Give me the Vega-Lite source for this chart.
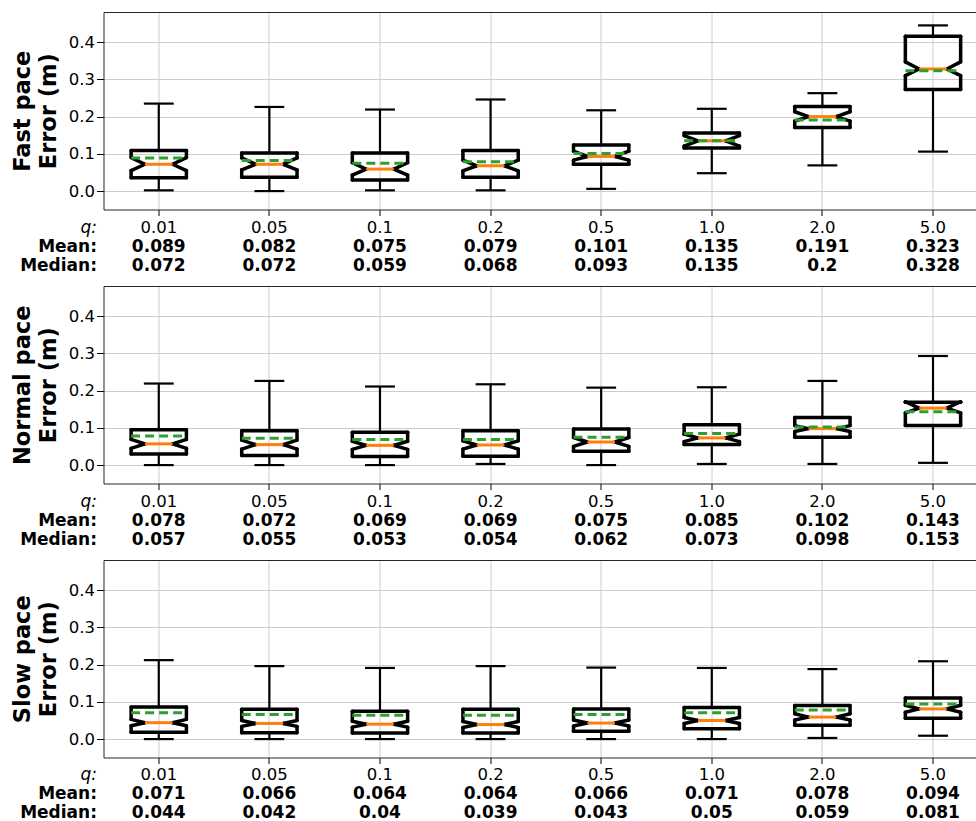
{
"$schema": "https://vega.github.io/schema/vega-lite/v6.json",
"padding": {"left": 10.5, "top": 12, "right": 0, "bottom": 0},
"config": {
  "font": "DejaVu Sans",
  "view": {"stroke": null},
  "axis": {"labelColor": "#000", "titleColor": "#000", "tickColor": "#000", "domainColor": "#262626", "domainWidth": 1, "gridColor": "#cccccc", "gridWidth": 1, "labelFontSize": 16.5, "labelFont": "DejaVu Sans", "titleFont": "DejaVu Sans", "tickWidth": 1},
  "axisY": {"tickSize": 7, "labelPadding": 2, "titleFontSize": 22.5, "titleFontWeight": "bold", "titleLineHeight": 26, "titlePadding": 8}
},
"datasets": {"boxes": [
{"pace":"Fast","q":"0.01","wlo":0.002,"q1":0.036,"cilo":0.055,"med":0.072,"cihi":0.090,"q3":0.109,"whi":0.235,"mean":0.089},
{"pace":"Fast","q":"0.05","wlo":0.0,"q1":0.037,"cilo":0.057,"med":0.072,"cihi":0.089,"q3":0.102,"whi":0.226,"mean":0.082},
{"pace":"Fast","q":"0.1","wlo":0.002,"q1":0.030,"cilo":0.043,"med":0.059,"cihi":0.076,"q3":0.102,"whi":0.219,"mean":0.075},
{"pace":"Fast","q":"0.2","wlo":0.002,"q1":0.037,"cilo":0.054,"med":0.068,"cihi":0.083,"q3":0.109,"whi":0.246,"mean":0.079},
{"pace":"Fast","q":"0.5","wlo":0.006,"q1":0.072,"cilo":0.083,"med":0.093,"cihi":0.107,"q3":0.124,"whi":0.217,"mean":0.101},
{"pace":"Fast","q":"1.0","wlo":0.048,"q1":0.116,"cilo":0.121,"med":0.135,"cihi":0.149,"q3":0.156,"whi":0.221,"mean":0.135},
{"pace":"Fast","q":"2.0","wlo":0.069,"q1":0.171,"cilo":0.188,"med":0.2,"cihi":0.213,"q3":0.227,"whi":0.263,"mean":0.191},
{"pace":"Fast","q":"5.0","wlo":0.106,"q1":0.273,"cilo":0.310,"med":0.328,"cihi":0.347,"q3":0.416,"whi":0.445,"mean":0.323},
{"pace":"Normal","q":"0.01","wlo":0.0,"q1":0.030,"cilo":0.045,"med":0.057,"cihi":0.069,"q3":0.095,"whi":0.219,"mean":0.078},
{"pace":"Normal","q":"0.05","wlo":0.0,"q1":0.026,"cilo":0.043,"med":0.055,"cihi":0.067,"q3":0.092,"whi":0.226,"mean":0.072},
{"pace":"Normal","q":"0.1","wlo":0.0,"q1":0.023,"cilo":0.042,"med":0.053,"cihi":0.064,"q3":0.088,"whi":0.211,"mean":0.069},
{"pace":"Normal","q":"0.2","wlo":0.003,"q1":0.024,"cilo":0.043,"med":0.054,"cihi":0.065,"q3":0.092,"whi":0.217,"mean":0.069},
{"pace":"Normal","q":"0.5","wlo":0.0,"q1":0.037,"cilo":0.050,"med":0.062,"cihi":0.074,"q3":0.097,"whi":0.208,"mean":0.075},
{"pace":"Normal","q":"1.0","wlo":0.003,"q1":0.055,"cilo":0.063,"med":0.073,"cihi":0.083,"q3":0.108,"whi":0.209,"mean":0.085},
{"pace":"Normal","q":"2.0","wlo":0.003,"q1":0.075,"cilo":0.090,"med":0.098,"cihi":0.106,"q3":0.128,"whi":0.226,"mean":0.102},
{"pace":"Normal","q":"5.0","wlo":0.006,"q1":0.106,"cilo":0.140,"med":0.153,"cihi":0.170,"q3":0.169,"whi":0.293,"mean":0.143},
{"pace":"Slow","q":"0.01","wlo":0.0,"q1":0.018,"cilo":0.036,"med":0.044,"cihi":0.053,"q3":0.086,"whi":0.212,"mean":0.071},
{"pace":"Slow","q":"0.05","wlo":0.0,"q1":0.017,"cilo":0.034,"med":0.042,"cihi":0.050,"q3":0.080,"whi":0.196,"mean":0.066},
{"pace":"Slow","q":"0.1","wlo":0.0,"q1":0.016,"cilo":0.032,"med":0.040,"cihi":0.048,"q3":0.075,"whi":0.191,"mean":0.064},
{"pace":"Slow","q":"0.2","wlo":0.0,"q1":0.016,"cilo":0.031,"med":0.039,"cihi":0.047,"q3":0.080,"whi":0.196,"mean":0.064},
{"pace":"Slow","q":"0.5","wlo":0.0,"q1":0.021,"cilo":0.035,"med":0.043,"cihi":0.051,"q3":0.081,"whi":0.192,"mean":0.066},
{"pace":"Slow","q":"1.0","wlo":0.0,"q1":0.028,"cilo":0.042,"med":0.050,"cihi":0.058,"q3":0.085,"whi":0.191,"mean":0.071},
{"pace":"Slow","q":"2.0","wlo":0.003,"q1":0.037,"cilo":0.051,"med":0.059,"cihi":0.068,"q3":0.090,"whi":0.188,"mean":0.078},
{"pace":"Slow","q":"5.0","wlo":0.009,"q1":0.056,"cilo":0.072,"med":0.081,"cihi":0.091,"q3":0.110,"whi":0.209,"mean":0.094}
]},
"data": {"name": "boxes"},
"spacing": 0,
"bounds": "flush",
"vconcat": [
{
 "height": 197.5, "width": 874,
 "transform": [{"filter": "datum.pace == 'Fast'"}],
 "resolve": {"axis": {"x": "independent"}},
 "layer": [
  {"mark": {"type": "rule", "color": "black", "strokeWidth": 2.2},
   "encoding": {
    "x": {"field": "q", "type": "nominal", "scale": {"type": "band", "domain": ["0.01","0.05","0.1","0.2","0.5","1.0","2.0","5.0"], "paddingInner": 0.5, "paddingOuter": 0.201, "align": 0.621}, "axis": {"orient": "bottom", "labels": false, "ticks": true, "tickSize": 6, "domain": true, "grid": true, "bandPosition": 0.5, "title": null}},
    "y": {"field": "wlo", "type": "quantitative", "scale": {"domain": [-0.0495, 0.481], "nice": false, "zero": false}, "axis": {"title": ["Fast pace", "Error (m)"], "values": [0, 0.1, 0.2, 0.3, 0.4], "format": ".1f", "grid": true}},
    "y2": {"field": "q1"}}},
  {"mark": {"type": "rule", "color": "black", "strokeWidth": 2.2},
   "encoding": {
    "x": {"field": "q", "type": "nominal", "axis": {"orient": "top", "labels": false, "ticks": false, "domain": true, "grid": false, "title": null}},
    "y": {"field": "q3", "type": "quantitative"},
    "y2": {"field": "whi"}}},
  {"mark": {"type": "rule", "color": "black", "strokeWidth": 2.2, "strokeCap": "square"},
   "encoding": {"x": {"field": "q", "type": "nominal", "bandPosition": 0.25, "axis": null}, "x2": {"field": "q", "bandPosition": 0.75}, "y": {"field": "wlo", "type": "quantitative"}}},
  {"mark": {"type": "rule", "color": "black", "strokeWidth": 2.2, "strokeCap": "square"},
   "encoding": {"x": {"field": "q", "type": "nominal", "bandPosition": 0.25, "axis": null}, "x2": {"field": "q", "bandPosition": 0.75}, "y": {"field": "whi", "type": "quantitative"}}},
  {"mark": {"type": "rule", "color": "black", "strokeWidth": 3.5, "strokeCap": "round"},
   "encoding": {"x": {"field": "q", "type": "nominal", "bandPosition": 0, "axis": null}, "x2": {"field": "q", "bandPosition": 1}, "y": {"field": "q3", "type": "quantitative"}}},
  {"mark": {"type": "rule", "color": "black", "strokeWidth": 3.5, "strokeCap": "round"},
   "encoding": {"x": {"field": "q", "type": "nominal", "bandPosition": 0, "axis": null}, "x2": {"field": "q", "bandPosition": 1}, "y": {"field": "q1", "type": "quantitative"}}},
  {"mark": {"type": "rule", "color": "black", "strokeWidth": 3.5, "strokeCap": "round"},
   "encoding": {"x": {"field": "q", "type": "nominal", "bandPosition": 0, "axis": null}, "y": {"field": "q1", "type": "quantitative"}, "y2": {"field": "cilo"}}},
  {"mark": {"type": "rule", "color": "black", "strokeWidth": 3.5, "strokeCap": "round"},
   "encoding": {"x": {"field": "q", "type": "nominal", "bandPosition": 0, "axis": null}, "y": {"field": "cihi", "type": "quantitative"}, "y2": {"field": "q3"}}},
  {"mark": {"type": "rule", "color": "black", "strokeWidth": 3.5, "strokeCap": "round"},
   "encoding": {"x": {"field": "q", "type": "nominal", "bandPosition": 1, "axis": null}, "y": {"field": "q1", "type": "quantitative"}, "y2": {"field": "cilo"}}},
  {"mark": {"type": "rule", "color": "black", "strokeWidth": 3.5, "strokeCap": "round"},
   "encoding": {"x": {"field": "q", "type": "nominal", "bandPosition": 1, "axis": null}, "y": {"field": "cihi", "type": "quantitative"}, "y2": {"field": "q3"}}},
  {"mark": {"type": "rule", "color": "black", "strokeWidth": 3.5, "strokeCap": "round"},
   "encoding": {"x": {"field": "q", "type": "nominal", "bandPosition": 0, "axis": null}, "x2": {"field": "q", "bandPosition": 0.25}, "y": {"field": "cilo", "type": "quantitative"}, "y2": {"field": "med"}}},
  {"mark": {"type": "rule", "color": "black", "strokeWidth": 3.5, "strokeCap": "round"},
   "encoding": {"x": {"field": "q", "type": "nominal", "bandPosition": 0.25, "axis": null}, "x2": {"field": "q", "bandPosition": 0}, "y": {"field": "med", "type": "quantitative"}, "y2": {"field": "cihi"}}},
  {"mark": {"type": "rule", "color": "black", "strokeWidth": 3.5, "strokeCap": "round"},
   "encoding": {"x": {"field": "q", "type": "nominal", "bandPosition": 1, "axis": null}, "x2": {"field": "q", "bandPosition": 0.75}, "y": {"field": "cilo", "type": "quantitative"}, "y2": {"field": "med"}}},
  {"mark": {"type": "rule", "color": "black", "strokeWidth": 3.5, "strokeCap": "round"},
   "encoding": {"x": {"field": "q", "type": "nominal", "bandPosition": 0.75, "axis": null}, "x2": {"field": "q", "bandPosition": 1}, "y": {"field": "med", "type": "quantitative"}, "y2": {"field": "cihi"}}},
  {"mark": {"type": "rule", "color": "#ff7f0e", "strokeWidth": 3},
   "encoding": {"x": {"field": "q", "type": "nominal", "bandPosition": 0.25, "axis": null}, "x2": {"field": "q", "bandPosition": 0.75}, "y": {"field": "med", "type": "quantitative"}}},
  {"mark": {"type": "rule", "color": "#2ca02c", "strokeWidth": 3, "strokeDash": [9, 5]},
   "encoding": {"x": {"field": "q", "type": "nominal", "bandPosition": 0, "axis": null}, "x2": {"field": "q", "bandPosition": 1}, "y": {"field": "mean", "type": "quantitative"}}}
 ]
},
{
 "height": 76, "width": 874,
 "transform": [{"filter": "datum.pace == 'Fast'"}, {"fold": ["q", "mean", "med"], "as": ["key", "val"]}],
 "encoding": {
  "x": {"field": "q", "type": "nominal", "scale": {"type": "band", "domain": ["0.01","0.05","0.1","0.2","0.5","1.0","2.0","5.0"], "paddingInner": 0.5, "paddingOuter": 0.201, "align": 0.621}, "axis": null},
  "y": {"field": "key", "type": "nominal", "scale": {"type": "band", "domain": ["q", "mean", "med"], "paddingInner": 0, "paddingOuter": 0.5, "align": 0.29},
        "axis": {"title": null, "domain": false, "ticks": false, "tickSize": 0, "grid": false, "labelPadding": 7, "labelOffset": 2.5, "labelFontSize": 17, "labelExpr": "datum.value == 'q' ? 'q:' : datum.value == 'mean' ? 'Mean:' : 'Median:'", "labelFontWeight": {"condition": {"test": "datum.value == 'q'", "value": "normal"}, "value": "bold"}, "labelFontStyle": {"condition": {"test": "datum.value == 'q'", "value": "italic"}, "value": "normal"}}},
  "text": {"field": "val", "type": "nominal"}
 },
 "layer": [
  {"transform": [{"filter": "datum.key == 'q'"}], "mark": {"type": "text", "fontSize": 16.5, "color": "black", "dy": 2.5}},
  {"transform": [{"filter": "datum.key != 'q'"}], "mark": {"type": "text", "fontSize": 17, "fontWeight": "bold", "color": "black", "dy": 2.5}}
 ]
},
{
 "height": 197.5, "width": 874,
 "transform": [{"filter": "datum.pace == 'Normal'"}],
 "resolve": {"axis": {"x": "independent"}},
 "layer": [
  {"mark": {"type": "rule", "color": "black", "strokeWidth": 2.2},
   "encoding": {
    "x": {"field": "q", "type": "nominal", "scale": {"type": "band", "domain": ["0.01","0.05","0.1","0.2","0.5","1.0","2.0","5.0"], "paddingInner": 0.5, "paddingOuter": 0.201, "align": 0.621}, "axis": {"orient": "bottom", "labels": false, "ticks": true, "tickSize": 6, "domain": true, "grid": true, "bandPosition": 0.5, "title": null}},
    "y": {"field": "wlo", "type": "quantitative", "scale": {"domain": [-0.0495, 0.481], "nice": false, "zero": false}, "axis": {"title": ["Normal pace", "Error (m)"], "values": [0, 0.1, 0.2, 0.3, 0.4], "format": ".1f", "grid": true}},
    "y2": {"field": "q1"}}},
  {"mark": {"type": "rule", "color": "black", "strokeWidth": 2.2},
   "encoding": {
    "x": {"field": "q", "type": "nominal", "axis": {"orient": "top", "labels": false, "ticks": false, "domain": true, "grid": false, "title": null}},
    "y": {"field": "q3", "type": "quantitative"},
    "y2": {"field": "whi"}}},
  {"mark": {"type": "rule", "color": "black", "strokeWidth": 2.2, "strokeCap": "square"},
   "encoding": {"x": {"field": "q", "type": "nominal", "bandPosition": 0.25, "axis": null}, "x2": {"field": "q", "bandPosition": 0.75}, "y": {"field": "wlo", "type": "quantitative"}}},
  {"mark": {"type": "rule", "color": "black", "strokeWidth": 2.2, "strokeCap": "square"},
   "encoding": {"x": {"field": "q", "type": "nominal", "bandPosition": 0.25, "axis": null}, "x2": {"field": "q", "bandPosition": 0.75}, "y": {"field": "whi", "type": "quantitative"}}},
  {"mark": {"type": "rule", "color": "black", "strokeWidth": 3.5, "strokeCap": "round"},
   "encoding": {"x": {"field": "q", "type": "nominal", "bandPosition": 0, "axis": null}, "x2": {"field": "q", "bandPosition": 1}, "y": {"field": "q3", "type": "quantitative"}}},
  {"mark": {"type": "rule", "color": "black", "strokeWidth": 3.5, "strokeCap": "round"},
   "encoding": {"x": {"field": "q", "type": "nominal", "bandPosition": 0, "axis": null}, "x2": {"field": "q", "bandPosition": 1}, "y": {"field": "q1", "type": "quantitative"}}},
  {"mark": {"type": "rule", "color": "black", "strokeWidth": 3.5, "strokeCap": "round"},
   "encoding": {"x": {"field": "q", "type": "nominal", "bandPosition": 0, "axis": null}, "y": {"field": "q1", "type": "quantitative"}, "y2": {"field": "cilo"}}},
  {"mark": {"type": "rule", "color": "black", "strokeWidth": 3.5, "strokeCap": "round"},
   "encoding": {"x": {"field": "q", "type": "nominal", "bandPosition": 0, "axis": null}, "y": {"field": "cihi", "type": "quantitative"}, "y2": {"field": "q3"}}},
  {"mark": {"type": "rule", "color": "black", "strokeWidth": 3.5, "strokeCap": "round"},
   "encoding": {"x": {"field": "q", "type": "nominal", "bandPosition": 1, "axis": null}, "y": {"field": "q1", "type": "quantitative"}, "y2": {"field": "cilo"}}},
  {"mark": {"type": "rule", "color": "black", "strokeWidth": 3.5, "strokeCap": "round"},
   "encoding": {"x": {"field": "q", "type": "nominal", "bandPosition": 1, "axis": null}, "y": {"field": "cihi", "type": "quantitative"}, "y2": {"field": "q3"}}},
  {"mark": {"type": "rule", "color": "black", "strokeWidth": 3.5, "strokeCap": "round"},
   "encoding": {"x": {"field": "q", "type": "nominal", "bandPosition": 0, "axis": null}, "x2": {"field": "q", "bandPosition": 0.25}, "y": {"field": "cilo", "type": "quantitative"}, "y2": {"field": "med"}}},
  {"mark": {"type": "rule", "color": "black", "strokeWidth": 3.5, "strokeCap": "round"},
   "encoding": {"x": {"field": "q", "type": "nominal", "bandPosition": 0.25, "axis": null}, "x2": {"field": "q", "bandPosition": 0}, "y": {"field": "med", "type": "quantitative"}, "y2": {"field": "cihi"}}},
  {"mark": {"type": "rule", "color": "black", "strokeWidth": 3.5, "strokeCap": "round"},
   "encoding": {"x": {"field": "q", "type": "nominal", "bandPosition": 1, "axis": null}, "x2": {"field": "q", "bandPosition": 0.75}, "y": {"field": "cilo", "type": "quantitative"}, "y2": {"field": "med"}}},
  {"mark": {"type": "rule", "color": "black", "strokeWidth": 3.5, "strokeCap": "round"},
   "encoding": {"x": {"field": "q", "type": "nominal", "bandPosition": 0.75, "axis": null}, "x2": {"field": "q", "bandPosition": 1}, "y": {"field": "med", "type": "quantitative"}, "y2": {"field": "cihi"}}},
  {"mark": {"type": "rule", "color": "#ff7f0e", "strokeWidth": 3},
   "encoding": {"x": {"field": "q", "type": "nominal", "bandPosition": 0.25, "axis": null}, "x2": {"field": "q", "bandPosition": 0.75}, "y": {"field": "med", "type": "quantitative"}}},
  {"mark": {"type": "rule", "color": "#2ca02c", "strokeWidth": 3, "strokeDash": [9, 5]},
   "encoding": {"x": {"field": "q", "type": "nominal", "bandPosition": 0, "axis": null}, "x2": {"field": "q", "bandPosition": 1}, "y": {"field": "mean", "type": "quantitative"}}}
 ]
},
{
 "height": 76, "width": 874,
 "transform": [{"filter": "datum.pace == 'Normal'"}, {"fold": ["q", "mean", "med"], "as": ["key", "val"]}],
 "encoding": {
  "x": {"field": "q", "type": "nominal", "scale": {"type": "band", "domain": ["0.01","0.05","0.1","0.2","0.5","1.0","2.0","5.0"], "paddingInner": 0.5, "paddingOuter": 0.201, "align": 0.621}, "axis": null},
  "y": {"field": "key", "type": "nominal", "scale": {"type": "band", "domain": ["q", "mean", "med"], "paddingInner": 0, "paddingOuter": 0.5, "align": 0.29},
        "axis": {"title": null, "domain": false, "ticks": false, "tickSize": 0, "grid": false, "labelPadding": 7, "labelOffset": 2.5, "labelFontSize": 17, "labelExpr": "datum.value == 'q' ? 'q:' : datum.value == 'mean' ? 'Mean:' : 'Median:'", "labelFontWeight": {"condition": {"test": "datum.value == 'q'", "value": "normal"}, "value": "bold"}, "labelFontStyle": {"condition": {"test": "datum.value == 'q'", "value": "italic"}, "value": "normal"}}},
  "text": {"field": "val", "type": "nominal"}
 },
 "layer": [
  {"transform": [{"filter": "datum.key == 'q'"}], "mark": {"type": "text", "fontSize": 16.5, "color": "black", "dy": 2.5}},
  {"transform": [{"filter": "datum.key != 'q'"}], "mark": {"type": "text", "fontSize": 17, "fontWeight": "bold", "color": "black", "dy": 2.5}}
 ]
},
{
 "height": 197.5, "width": 874,
 "transform": [{"filter": "datum.pace == 'Slow'"}],
 "resolve": {"axis": {"x": "independent"}},
 "layer": [
  {"mark": {"type": "rule", "color": "black", "strokeWidth": 2.2},
   "encoding": {
    "x": {"field": "q", "type": "nominal", "scale": {"type": "band", "domain": ["0.01","0.05","0.1","0.2","0.5","1.0","2.0","5.0"], "paddingInner": 0.5, "paddingOuter": 0.201, "align": 0.621}, "axis": {"orient": "bottom", "labels": false, "ticks": true, "tickSize": 6, "domain": true, "grid": true, "bandPosition": 0.5, "title": null}},
    "y": {"field": "wlo", "type": "quantitative", "scale": {"domain": [-0.0495, 0.481], "nice": false, "zero": false}, "axis": {"title": ["Slow pace", "Error (m)"], "values": [0, 0.1, 0.2, 0.3, 0.4], "format": ".1f", "grid": true}},
    "y2": {"field": "q1"}}},
  {"mark": {"type": "rule", "color": "black", "strokeWidth": 2.2},
   "encoding": {
    "x": {"field": "q", "type": "nominal", "axis": {"orient": "top", "labels": false, "ticks": false, "domain": true, "grid": false, "title": null}},
    "y": {"field": "q3", "type": "quantitative"},
    "y2": {"field": "whi"}}},
  {"mark": {"type": "rule", "color": "black", "strokeWidth": 2.2, "strokeCap": "square"},
   "encoding": {"x": {"field": "q", "type": "nominal", "bandPosition": 0.25, "axis": null}, "x2": {"field": "q", "bandPosition": 0.75}, "y": {"field": "wlo", "type": "quantitative"}}},
  {"mark": {"type": "rule", "color": "black", "strokeWidth": 2.2, "strokeCap": "square"},
   "encoding": {"x": {"field": "q", "type": "nominal", "bandPosition": 0.25, "axis": null}, "x2": {"field": "q", "bandPosition": 0.75}, "y": {"field": "whi", "type": "quantitative"}}},
  {"mark": {"type": "rule", "color": "black", "strokeWidth": 3.5, "strokeCap": "round"},
   "encoding": {"x": {"field": "q", "type": "nominal", "bandPosition": 0, "axis": null}, "x2": {"field": "q", "bandPosition": 1}, "y": {"field": "q3", "type": "quantitative"}}},
  {"mark": {"type": "rule", "color": "black", "strokeWidth": 3.5, "strokeCap": "round"},
   "encoding": {"x": {"field": "q", "type": "nominal", "bandPosition": 0, "axis": null}, "x2": {"field": "q", "bandPosition": 1}, "y": {"field": "q1", "type": "quantitative"}}},
  {"mark": {"type": "rule", "color": "black", "strokeWidth": 3.5, "strokeCap": "round"},
   "encoding": {"x": {"field": "q", "type": "nominal", "bandPosition": 0, "axis": null}, "y": {"field": "q1", "type": "quantitative"}, "y2": {"field": "cilo"}}},
  {"mark": {"type": "rule", "color": "black", "strokeWidth": 3.5, "strokeCap": "round"},
   "encoding": {"x": {"field": "q", "type": "nominal", "bandPosition": 0, "axis": null}, "y": {"field": "cihi", "type": "quantitative"}, "y2": {"field": "q3"}}},
  {"mark": {"type": "rule", "color": "black", "strokeWidth": 3.5, "strokeCap": "round"},
   "encoding": {"x": {"field": "q", "type": "nominal", "bandPosition": 1, "axis": null}, "y": {"field": "q1", "type": "quantitative"}, "y2": {"field": "cilo"}}},
  {"mark": {"type": "rule", "color": "black", "strokeWidth": 3.5, "strokeCap": "round"},
   "encoding": {"x": {"field": "q", "type": "nominal", "bandPosition": 1, "axis": null}, "y": {"field": "cihi", "type": "quantitative"}, "y2": {"field": "q3"}}},
  {"mark": {"type": "rule", "color": "black", "strokeWidth": 3.5, "strokeCap": "round"},
   "encoding": {"x": {"field": "q", "type": "nominal", "bandPosition": 0, "axis": null}, "x2": {"field": "q", "bandPosition": 0.25}, "y": {"field": "cilo", "type": "quantitative"}, "y2": {"field": "med"}}},
  {"mark": {"type": "rule", "color": "black", "strokeWidth": 3.5, "strokeCap": "round"},
   "encoding": {"x": {"field": "q", "type": "nominal", "bandPosition": 0.25, "axis": null}, "x2": {"field": "q", "bandPosition": 0}, "y": {"field": "med", "type": "quantitative"}, "y2": {"field": "cihi"}}},
  {"mark": {"type": "rule", "color": "black", "strokeWidth": 3.5, "strokeCap": "round"},
   "encoding": {"x": {"field": "q", "type": "nominal", "bandPosition": 1, "axis": null}, "x2": {"field": "q", "bandPosition": 0.75}, "y": {"field": "cilo", "type": "quantitative"}, "y2": {"field": "med"}}},
  {"mark": {"type": "rule", "color": "black", "strokeWidth": 3.5, "strokeCap": "round"},
   "encoding": {"x": {"field": "q", "type": "nominal", "bandPosition": 0.75, "axis": null}, "x2": {"field": "q", "bandPosition": 1}, "y": {"field": "med", "type": "quantitative"}, "y2": {"field": "cihi"}}},
  {"mark": {"type": "rule", "color": "#ff7f0e", "strokeWidth": 3},
   "encoding": {"x": {"field": "q", "type": "nominal", "bandPosition": 0.25, "axis": null}, "x2": {"field": "q", "bandPosition": 0.75}, "y": {"field": "med", "type": "quantitative"}}},
  {"mark": {"type": "rule", "color": "#2ca02c", "strokeWidth": 3, "strokeDash": [9, 5]},
   "encoding": {"x": {"field": "q", "type": "nominal", "bandPosition": 0, "axis": null}, "x2": {"field": "q", "bandPosition": 1}, "y": {"field": "mean", "type": "quantitative"}}}
 ]
},
{
 "height": 62.5, "width": 874,
 "transform": [{"filter": "datum.pace == 'Slow'"}, {"fold": ["q", "mean", "med"], "as": ["key", "val"]}],
 "encoding": {
  "x": {"field": "q", "type": "nominal", "scale": {"type": "band", "domain": ["0.01","0.05","0.1","0.2","0.5","1.0","2.0","5.0"], "paddingInner": 0.5, "paddingOuter": 0.201, "align": 0.621}, "axis": null},
  "y": {"field": "key", "type": "nominal", "scale": {"type": "band", "domain": ["q", "mean", "med"], "paddingInner": 0, "paddingOuter": 0.1447, "align": 1},
        "axis": {"title": null, "domain": false, "ticks": false, "tickSize": 0, "grid": false, "labelPadding": 7, "labelOffset": 2.5, "labelFontSize": 17, "labelExpr": "datum.value == 'q' ? 'q:' : datum.value == 'mean' ? 'Mean:' : 'Median:'", "labelFontWeight": {"condition": {"test": "datum.value == 'q'", "value": "normal"}, "value": "bold"}, "labelFontStyle": {"condition": {"test": "datum.value == 'q'", "value": "italic"}, "value": "normal"}}},
  "text": {"field": "val", "type": "nominal"}
 },
 "layer": [
  {"transform": [{"filter": "datum.key == 'q'"}], "mark": {"type": "text", "fontSize": 16.5, "color": "black", "dy": 2.5}},
  {"transform": [{"filter": "datum.key != 'q'"}], "mark": {"type": "text", "fontSize": 17, "fontWeight": "bold", "color": "black", "dy": 2.5}}
 ]
}
]
}
